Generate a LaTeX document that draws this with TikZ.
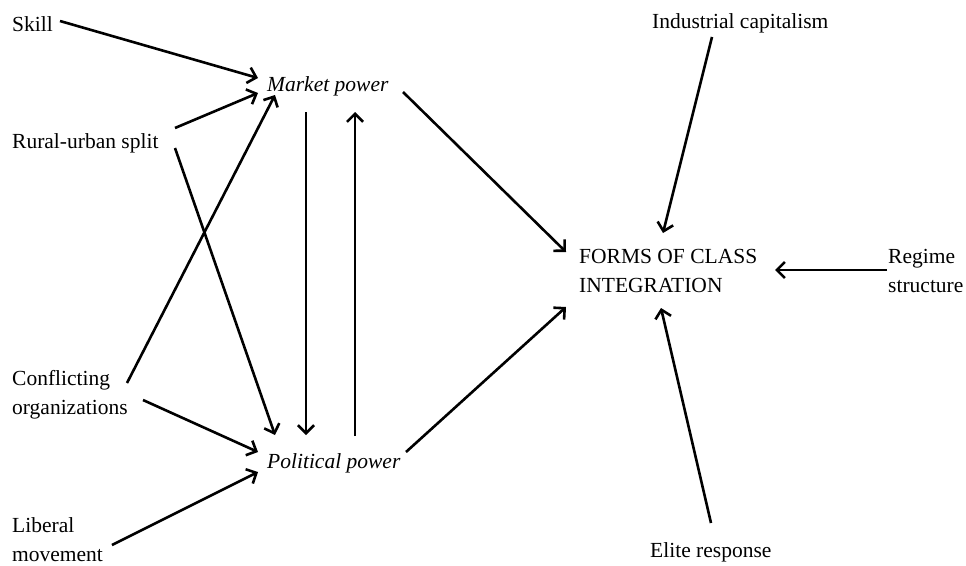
\documentclass[tikz,border=0pt]{standalone}
\usepackage{fontspec}
\setmainfont{Liberation Serif}
\usetikzlibrary{arrows.meta}
\begin{document}
\begin{tikzpicture}[x=1pt,y=-1pt,
  lbl/.style={anchor=base west, inner sep=0pt, font=\fontsize{21.5}{29}\selectfont},
  arr/.style={line width=2.6pt, -{Straight Barb[length=8pt,width=16pt,line width=2.6pt]}}]
\useasboundingbox (0,0) rectangle (966,565);
% nodes
\node[lbl] (skill) at (12,31) {Skill};
\node[lbl] (rural) at (12,148) {Rural-urban split};
\node[lbl] (confl) at (12,385) {\begin{tabular}[t]{@{}l@{}}Conflicting\\organizations\end{tabular}};
\node[lbl] (liberal) at (12,532) {\begin{tabular}[t]{@{}l@{}}Liberal\\movement\end{tabular}};
\node[lbl] (market) at (267,91) {\itshape Market power};
\node[lbl] (political) at (267,468) {\itshape Political power};
\node[lbl] (industrial) at (652,28) {Industrial capitalism};
\node[lbl] (forms) at (579,263) {\begin{tabular}[t]{@{}l@{}}FORMS OF CLASS\\INTEGRATION\end{tabular}};
\node[lbl] (regime) at (888,263) {\begin{tabular}[t]{@{}l@{}}Regime\\structure\end{tabular}};
\node[lbl] (elite) at (650,557) {Elite response};
% connectors
\draw[arr] ([shift={(48,-10)}]skill.base west) -- ([shift={(-9,-13)}]market.base west);
\draw[arr] ([shift={(163,-20)}]rural.base west) -- ([shift={(-9,2)}]market.base west);
\draw[arr] ([shift={(163,0)}]rural.base west) -- ([shift={(8,-33)}]political.base west);
\draw[arr] ([shift={(115,-2)}]confl.base west) -- ([shift={(8,4)}]market.base west);
\draw[arr] ([shift={(131,15)}]confl.base west) -- ([shift={(-9,-16)}]political.base west);
\draw[arr] ([shift={(100,13)}]liberal.base west) -- ([shift={(-9,4)}]political.base west);
\draw[arr] ([shift={(39,21)}]market.base west) -- ([shift={(39,-33)}]political.base west);
\draw[arr] ([shift={(88,-32)}]political.base west) -- ([shift={(88,21)}]market.base west);
\draw[arr] ([shift={(136,1)}]market.base west) -- ([shift={(-13,-11)}]forms.base west);
\draw[arr] ([shift={(139,-16)}]political.base west) -- ([shift={(-13,44)}]forms.base west);
\draw[arr] ([shift={(60,9)}]industrial.base west) -- ([shift={(84,-30)}]forms.base west);
\draw[arr] ([shift={(-1,7)}]regime.base west) -- ([shift={(196,7)}]forms.base west);
\draw[arr] ([shift={(61,-34)}]elite.base west) -- ([shift={(82,45)}]forms.base west);
\end{tikzpicture}
\end{document}
